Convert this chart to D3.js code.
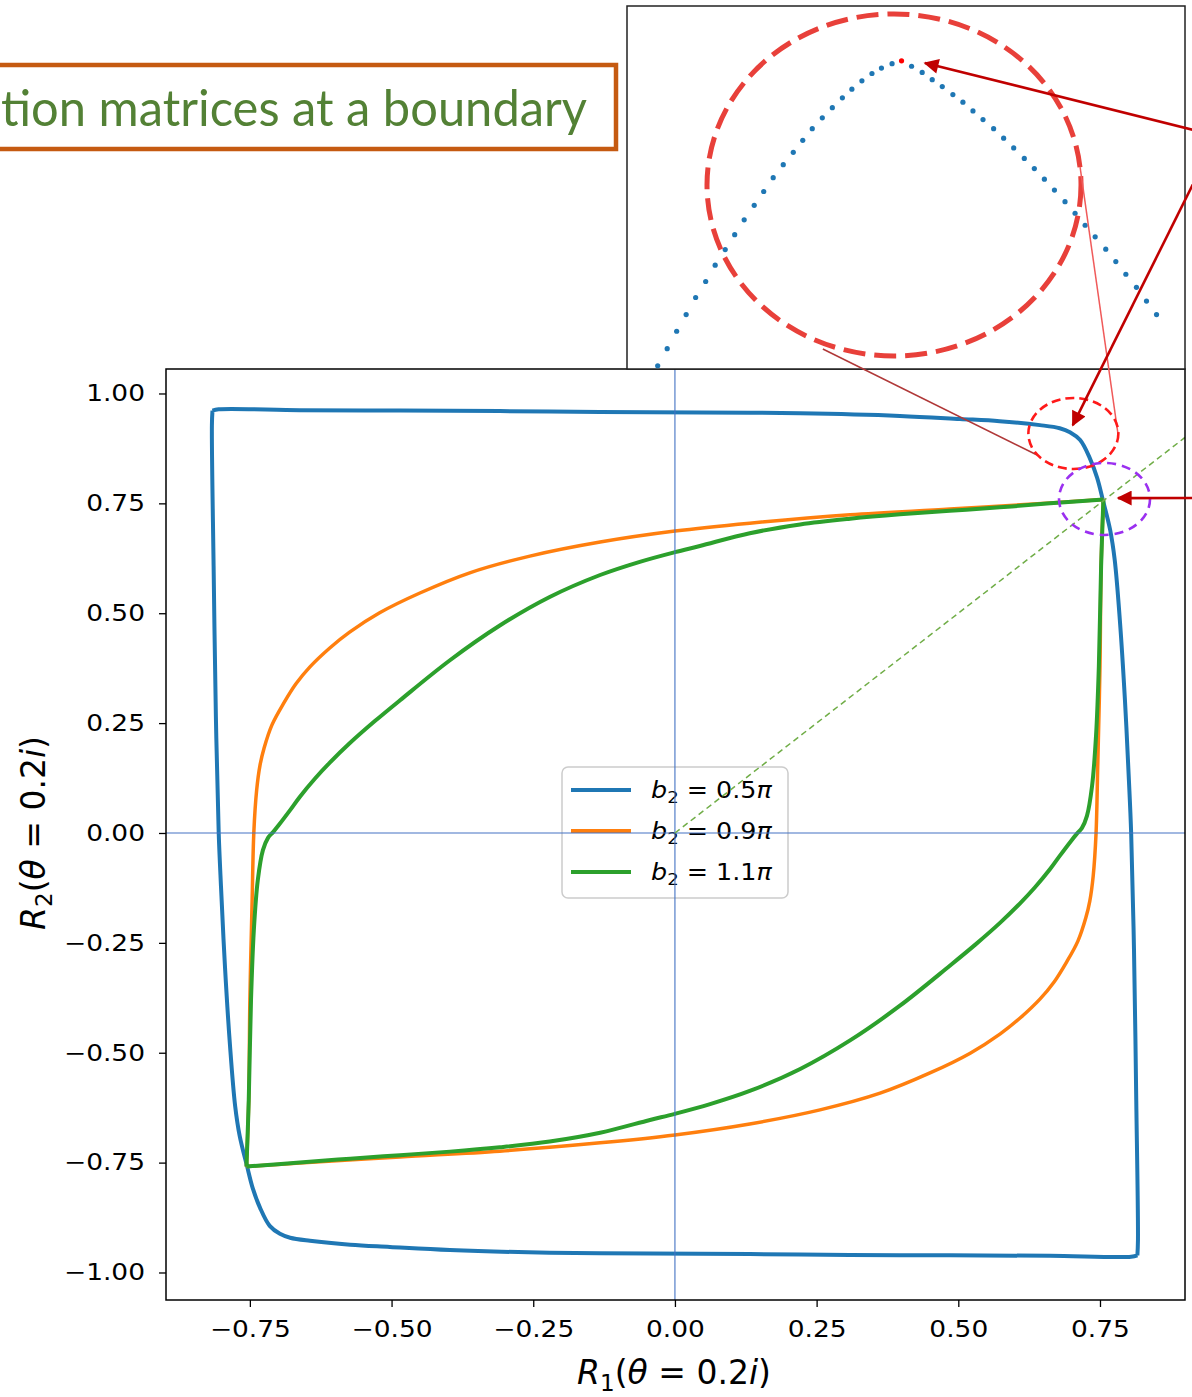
<!DOCTYPE html>
<html>
<head>
<meta charset="utf-8">
<script src="https://cdn.jsdelivr.net/npm/d3@7"></script>
<style>
  html, body { margin: 0; padding: 0; background: #fff; }
  svg { display: block; }
</style>
</head>
<body>
<svg id="chart" width="1192" height="1397"></svg>
<script>
// ---- Data: boundary curves of R1 vs R2 (theta = 0.2i) ----
const seriesLabels = ["0.5", "0.9", "1.1"];
const seriesColors = ["#1f77b4", "#ff7f0e", "#2ca02c"];

const blueR1 = [-0.817, -0.816, -0.805, -0.662, -0.485, -0.309, -0.132, 0.044, 0.221, 0.397, 0.503, 0.573, 0.644, 0.679, 0.697, 0.715, 0.732, 0.745, 0.755, 0.768, 0.776, 0.785, 0.794, 0.801, 0.805, 0.810, 0.814, 0.817, 0.816, 0.805,
  0.662, 0.485, 0.309, 0.132, -0.044, -0.221, -0.397, -0.503, -0.573, -0.644, -0.679, -0.697, -0.715, -0.732, -0.745, -0.755, -0.768, -0.776, -0.785, -0.794, -0.801, -0.805, -0.810, -0.814];
const blueR2 = [0.928, 0.961, 0.964, 0.962, 0.961, 0.960, 0.958, 0.957, 0.955, 0.949, 0.942, 0.937, 0.928, 0.921, 0.912, 0.894, 0.853, 0.808, 0.758, 0.689, 0.621, 0.485, 0.303, 0.121, 0.0, -0.266, -0.608, -0.926, -0.961, -0.964,
  -0.962, -0.961, -0.960, -0.958, -0.957, -0.955, -0.949, -0.942, -0.937, -0.928, -0.921, -0.912, -0.894, -0.853, -0.808, -0.758, -0.689, -0.621, -0.485, -0.303, -0.121, 0.0, 0.266, 0.608];

const orangeR1 = [-0.756, -0.752, -0.750, -0.746, -0.743, -0.738, -0.732, -0.725, -0.711, -0.690, -0.669, -0.644, -0.609, -0.574, -0.521, -0.450, -0.362, -0.256, -0.132, 0.0, 0.132, 0.309, 0.485, 0.662, 0.756,
  0.752, 0.750, 0.746, 0.743, 0.738, 0.732, 0.725, 0.711, 0.690, 0.669, 0.644, 0.609, 0.574, 0.521, 0.450, 0.362, 0.256, 0.132, 0.0, -0.132, -0.309, -0.485, -0.662, -0.756];
const orangeR2 = [-0.759, -0.608, -0.380, -0.152, 0.002, 0.098, 0.155, 0.193, 0.246, 0.296, 0.339, 0.378, 0.421, 0.457, 0.501, 0.546, 0.592, 0.630, 0.662, 0.687, 0.705, 0.724, 0.737, 0.751, 0.759,
  0.608, 0.380, 0.152, -0.002, -0.098, -0.155, -0.193, -0.246, -0.296, -0.339, -0.378, -0.421, -0.457, -0.501, -0.546, -0.592, -0.630, -0.662, -0.687, -0.705, -0.724, -0.737, -0.751, -0.759];

const greenR1 = [-0.756, -0.752, -0.748, -0.743, -0.736, -0.727, -0.718, -0.709, -0.699, -0.679, -0.662, -0.635, -0.609, -0.574, -0.530, -0.485, -0.397, -0.309, -0.221, -0.132, -0.062, 0.0, 0.044, 0.132, 0.221, 0.309, 0.397, 0.485, 0.573, 0.662, 0.756,
  0.752, 0.748, 0.743, 0.736, 0.727, 0.718, 0.709, 0.699, 0.679, 0.662, 0.635, 0.609, 0.574, 0.530, 0.485, 0.397, 0.309, 0.221, 0.132, 0.062, 0.0, -0.044, -0.132, -0.221, -0.309, -0.397, -0.485, -0.573, -0.662, -0.756];
const greenR2 = [-0.759, -0.608, -0.380, -0.221, -0.107, -0.039, -0.011, 0.002, 0.018, 0.052, 0.082, 0.124, 0.160, 0.204, 0.254, 0.302, 0.393, 0.472, 0.537, 0.587, 0.617, 0.639, 0.653, 0.682, 0.702, 0.715, 0.725, 0.733, 0.741, 0.750, 0.759,
  0.608, 0.380, 0.221, 0.107, 0.039, 0.011, -0.002, -0.018, -0.052, -0.082, -0.124, -0.160, -0.204, -0.254, -0.302, -0.393, -0.472, -0.537, -0.587, -0.617, -0.639, -0.653, -0.682, -0.702, -0.715, -0.725, -0.733, -0.741, -0.750, -0.759];

// Zoomed view of the blue curve's top-right bend (normalised inset units)
const insetU = [0.055, 0.072, 0.089, 0.106, 0.123, 0.141, 0.158, 0.176, 0.193, 0.210, 0.228, 0.245, 0.262, 0.280, 0.298, 0.315, 0.332, 0.350, 0.368, 0.386, 0.403, 0.421, 0.439, 0.456, 0.475, 0.492,
  0.510, 0.529, 0.547, 0.565, 0.584, 0.602, 0.620, 0.638, 0.657, 0.675, 0.693, 0.712, 0.730, 0.748, 0.766, 0.785, 0.803, 0.821, 0.839, 0.858, 0.876, 0.894, 0.913, 0.931, 0.949];
const insetV = [0.009, 0.056, 0.104, 0.150, 0.197, 0.241, 0.286, 0.329, 0.370, 0.411, 0.451, 0.489, 0.527, 0.563, 0.597, 0.630, 0.662, 0.692, 0.720, 0.747, 0.771, 0.794, 0.814, 0.829, 0.841, 0.849,
  0.834, 0.817, 0.797, 0.778, 0.756, 0.735, 0.711, 0.687, 0.662, 0.636, 0.609, 0.580, 0.552, 0.523, 0.493, 0.461, 0.429, 0.396, 0.364, 0.330, 0.296, 0.261, 0.225, 0.187, 0.150];
const insetPeakIndex = 25;

const xTicks = [-0.75, -0.50, -0.25, 0.00, 0.25, 0.50, 0.75];
const yTicks = [-1.00, -0.75, -0.50, -0.25, 0.00, 0.25, 0.50, 0.75, 1.00];
const titleText = "tion matrices at a boundary";

// ---- Layout ----
const svg = d3.select("#chart");
const W = 1192, H = 1397;
const plot = { left: 166, right: 1185, top: 369, bottom: 1300 };
const x = d3.scaleLinear().domain([-0.898, 0.9]).range([plot.left, plot.right]);
const y = d3.scaleLinear().domain([-1.0626, 1.0557]).range([plot.bottom, plot.top]);
const textStretch = 1.15;
const mathFont = "'DejaVu Sans', sans-serif";

svg.append("rect").attr("width", W).attr("height", H).attr("fill", "#fff");

const defs = svg.append("defs");
defs.append("clipPath").attr("id", "plotClip")
  .append("rect").attr("x", plot.left).attr("y", plot.top)
  .attr("width", plot.right - plot.left).attr("height", plot.bottom - plot.top);
defs.append("marker").attr("id", "arrowHead")
  .attr("viewBox", "0 0 10 10").attr("refX", 9).attr("refY", 5)
  .attr("markerWidth", 20).attr("markerHeight", 15)
  .attr("markerUnits", "userSpaceOnUse").attr("orient", "auto")
  .append("path").attr("d", "M0,0 L10,5 L0,10 Z").attr("fill", "#c00000");

// ---- Axes ----
const fmt = d3.format(".2f");
const xAxisG = svg.append("g").attr("transform", `translate(0,${plot.bottom})`)
  .call(d3.axisBottom(x).tickValues(xTicks).tickFormat(fmt).tickSize(7).tickPadding(14));
const yAxisG = svg.append("g").attr("transform", `translate(${plot.left},0)`)
  .call(d3.axisLeft(y).tickValues(yTicks).tickFormat(fmt).tickSize(7).tickPadding(14));
[xAxisG, yAxisG].forEach(g => {
  g.select(".domain").remove();
  g.selectAll(".tick line").attr("stroke", "#000").attr("stroke-width", 1.3);
  g.selectAll(".tick text").attr("font-family", mathFont).attr("font-size", 23).attr("fill", "#000");
});
xAxisG.selectAll(".tick text").attr("transform", `scale(${textStretch},1)`);
yAxisG.selectAll(".tick text").attr("x", -21 / textStretch).attr("transform", `scale(${textStretch},1)`);

// ---- Curves ----
// Each closed loop is drawn as smooth branches between its sharp corner points.
const curveData = [
  { r1: blueR1, r2: blueR2, width: 4, corners: [1, 28] },
  { r1: orangeR1, r2: orangeR2, width: 3.5, corners: [0, 24] },
  { r1: greenR1, r2: greenR2, width: 4, corners: [0, 30] }
];
const line = d3.line().x(d => x(d[0])).y(d => y(d[1])).curve(d3.curveCatmullRom.alpha(0.5));
const curvesG = svg.append("g").attr("clip-path", "url(#plotClip)");
curveData.forEach((s, i) => {
  const pts = s.r1.map((v, k) => [v, s.r2[k]]);
  const n = pts.length;
  let d = "";
  s.corners.forEach((c, j) => {
    const next = s.corners[(j + 1) % s.corners.length];
    const end = next > c ? next : next + n;
    const seg = [];
    for (let k = c; k <= end; k++) seg.push(pts[k % n]);
    d += line(seg);
  });
  curvesG.append("path").attr("d", d)
    .attr("fill", "none").attr("stroke", seriesColors[i])
    .attr("stroke-width", s.width).attr("stroke-linejoin", "round");
});

// ---- Legend ----
const legend = svg.append("g");
legend.append("rect").attr("x", 562).attr("y", 767).attr("width", 226).attr("height", 131)
  .attr("rx", 6).attr("fill", "#fff").attr("fill-opacity", 0.8)
  .attr("stroke", "#cccccc").attr("stroke-width", 1.5);
seriesLabels.forEach((lab, i) => {
  const cy = 790 + i * 41;
  legend.append("line").attr("x1", 571).attr("x2", 631).attr("y1", cy).attr("y2", cy)
    .attr("stroke", seriesColors[i]).attr("stroke-width", 4);
  const t = legend.append("text")
    .attr("transform", `translate(651,${cy + 8}) scale(1.13,1)`)
    .attr("font-family", mathFont).attr("font-size", 22.5).attr("fill", "#000");
  t.append("tspan").attr("font-style", "italic").text("b");
  t.append("tspan").attr("font-size", 16).attr("dy", 5).text("2");
  t.append("tspan").attr("dy", -5).text(" = " + lab);
  t.append("tspan").attr("font-style", "italic").text("π");
});

// ---- Reference lines: R1 = 0, R2 = 0 and R1 = R2 ----
const refG = svg.append("g").attr("clip-path", "url(#plotClip)");
refG.append("line").attr("x1", x(0)).attr("x2", x(0)).attr("y1", plot.top).attr("y2", plot.bottom)
  .attr("stroke", "#4472c4").attr("stroke-width", 1.1);
refG.append("line").attr("x1", plot.left).attr("x2", plot.right).attr("y1", y(0)).attr("y2", y(0))
  .attr("stroke", "#4472c4").attr("stroke-width", 1.1);
refG.append("line").attr("x1", x(0)).attr("y1", y(0)).attr("x2", x(0.9)).attr("y2", y(0.9))
  .attr("stroke", "#70ad47").attr("stroke-width", 1.5).attr("stroke-dasharray", "6 4");

// Plot frame
svg.append("rect").attr("x", plot.left).attr("y", plot.top)
  .attr("width", plot.right - plot.left).attr("height", plot.bottom - plot.top)
  .attr("fill", "none").attr("stroke", "#000").attr("stroke-width", 1.5);

// ---- Axis titles ----
function mathLabel(t, sub) {
  t.append("tspan").attr("font-style", "italic").text("R");
  t.append("tspan").attr("font-size", "70%").attr("dy", 7).text(sub);
  t.append("tspan").attr("dy", -7).text("(");
  t.append("tspan").attr("font-style", "italic").text("θ");
  t.append("tspan").text(" = 0.2");
  t.append("tspan").attr("font-style", "italic").text("i");
  t.append("tspan").text(")");
}
mathLabel(svg.append("text").attr("x", 674).attr("y", 1384).attr("text-anchor", "middle")
  .attr("font-family", mathFont).attr("font-size", 33).attr("fill", "#000"), "1");
mathLabel(svg.append("text").attr("transform", "translate(45,833) rotate(-90)").attr("text-anchor", "middle")
  .attr("font-family", mathFont).attr("font-size", 33).attr("fill", "#000"), "2");

// ---- Inset: magnified bend of the blue curve ----
const inset = { left: 627, right: 1185, top: 6, bottom: 369 };
const ix = d3.scaleLinear().domain([0, 1]).range([inset.left, inset.right]);
const iy = d3.scaleLinear().domain([0, 1]).range([inset.bottom, inset.top]);
svg.append("rect").attr("x", inset.left).attr("y", inset.top)
  .attr("width", inset.right - inset.left).attr("height", inset.bottom - inset.top)
  .attr("fill", "#fff").attr("stroke", "#222").attr("stroke-width", 1.5);
svg.append("g").selectAll("circle").data(insetU.map((u, k) => [u, insetV[k], k])).join("circle")
  .attr("cx", d => ix(d[0])).attr("cy", d => iy(d[1])).attr("r", 2.6)
  .attr("fill", d => d[2] === insetPeakIndex ? "#ff0000" : "#1f77b4");
svg.append("ellipse").attr("cx", ix(0.4785)).attr("cy", iy(0.507))
  .attr("rx", 187).attr("ry", 171)
  .attr("fill", "none").attr("stroke", "#e8403a").attr("stroke-width", 5).attr("stroke-dasharray", "22 9");

// ---- Title box ----
svg.append("rect").attr("x", -10).attr("y", 65).attr("width", 626).attr("height", 84)
  .attr("fill", "#fff").attr("stroke", "#c55a11").attr("stroke-width", 4.5);
svg.append("text").attr("x", 1).attr("y", 126).attr("textLength", 586).attr("lengthAdjust", "spacingAndGlyphs")
  .attr("font-family", "Lato, 'Open Sans', sans-serif").attr("font-size", 50).attr("fill", "#538135")
  .text(titleText);

// ---- Annotations ----
const ann = svg.append("g");
// connectors between the magnified view and the marked bend
ann.append("line").attr("x1", ix(0.351)).attr("y1", iy(0.055)).attr("x2", x(0.639)).attr("y2", y(0.860))
  .attr("stroke", "#b03838").attr("stroke-width", 1.5);
ann.append("line").attr("x1", ix(0.812)).attr("y1", iy(0.556)).attr("x2", x(0.782)).attr("y2", y(0.906))
  .attr("stroke", "#f05a5a").attr("stroke-width", 1.5);
// marked regions
ann.append("ellipse").attr("cx", x(0.703)).attr("cy", y(0.909)).attr("rx", 45).attr("ry", 35.5)
  .attr("fill", "none").attr("stroke", "#ff1a1a").attr("stroke-width", 2.6).attr("stroke-dasharray", "9 5");
ann.append("ellipse").attr("cx", x(0.758)).attr("cy", y(0.760)).attr("rx", 45.5).attr("ry", 36)
  .attr("fill", "none").attr("stroke", "#9b30f0").attr("stroke-width", 2.6).attr("stroke-dasharray", "9 6");
// arrows coming in from the right
const arrows = [
  [[1250, 144], [ix(0.534), iy(0.843)]],
  [[1212, 146], [x(0.702), y(0.928)]],
  [[1250, 498], [x(0.782), y(0.762)]]
];
arrows.forEach(([a, b]) => {
  ann.append("line").attr("x1", a[0]).attr("y1", a[1]).attr("x2", b[0]).attr("y2", b[1])
    .attr("stroke", "#c00000").attr("stroke-width", 2.6).attr("marker-end", "url(#arrowHead)");
});
</script>
</body>
</html>
